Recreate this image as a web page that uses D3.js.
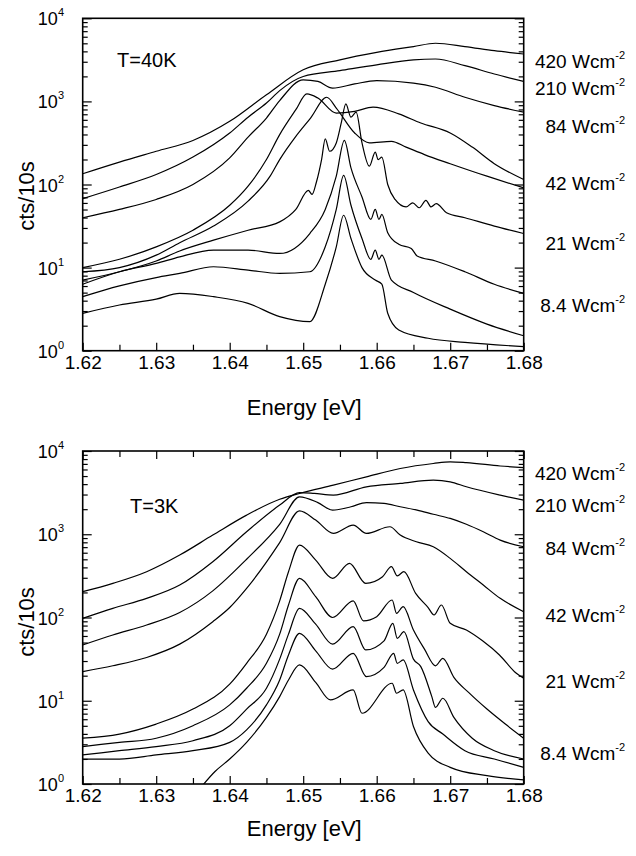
<!DOCTYPE html>
<html>
<head>
<meta charset="utf-8">
<script src="https://cdn.jsdelivr.net/npm/d3@7"></script>
<style>
  body { margin: 0; background: #fff; }
  text { font-family: "Liberation Sans", Arial, Helvetica, sans-serif; fill: #000; }
</style>
</head>
<body>
<svg id="chart" width="636" height="856"></svg>
<script>
// axis ticks / labels
var energyTicks = [1.62, 1.63, 1.64, 1.65, 1.66, 1.67, 1.68];
var decades = [1, 10, 100, 1000, 10000];
var powerLabels = ["420", "210", "84", "42", "21", "8.4"];

// ---- T = 40 K spectra, each point = [energy (eV), log10(cts/10s)] ----
var s40_420 = [[1.620,2.13],[1.625,2.27],[1.630,2.40],[1.635,2.53],[1.640,2.76],[1.645,3.08],[1.650,3.38],[1.655,3.50],[1.660,3.59],[1.665,3.66],[1.668,3.70],[1.672,3.66],[1.676,3.61],[1.680,3.57]];
var s40_210 = [[1.620,1.83],[1.625,1.97],[1.630,2.12],[1.635,2.33],[1.640,2.62],[1.6425,2.81],[1.645,2.98],[1.6468,3.13],[1.650,3.30],[1.655,3.37],[1.660,3.44],[1.665,3.50],[1.668,3.51],[1.672,3.43],[1.676,3.33],[1.680,3.24]];
var s40_84 = [[1.620,1.60],[1.625,1.70],[1.630,1.82],[1.635,2.00],[1.640,2.32],[1.6425,2.57],[1.645,2.80],[1.6468,3.01],[1.650,3.26],[1.652,3.24],[1.654,3.16],[1.657,3.21],[1.660,3.25],[1.665,3.22],[1.668,3.17],[1.672,3.05],[1.676,2.95],[1.680,2.87]];
var s40_42 = [[1.620,1.00],[1.625,1.10],[1.630,1.25],[1.635,1.45],[1.640,1.75],[1.6425,1.98],[1.645,2.30],[1.6468,2.60],[1.649,2.90],[1.6505,3.09],[1.652,3.04],[1.6545,2.86],[1.657,2.88],[1.6595,2.93],[1.663,2.85],[1.666,2.74],[1.670,2.62],[1.673,2.45],[1.676,2.25],[1.680,2.06]];
var s40_42b = [[1.620,0.95],[1.625,1.00],[1.630,1.15],[1.6332,1.30],[1.6378,1.50],[1.6425,1.80],[1.6455,2.10],[1.6468,2.30],[1.649,2.58],[1.651,2.80],[1.6532,3.05],[1.6545,2.92],[1.657,2.62],[1.659,2.50],[1.662,2.52],[1.664,2.45],[1.6665,2.36],[1.670,2.25],[1.675,2.10],[1.680,1.96]];
var s40_21 = [[1.620,0.85],[1.625,0.95],[1.630,1.08],[1.6332,1.20],[1.6378,1.33],[1.6425,1.45],[1.6468,1.55],[1.649,1.70],[1.6507,1.93],[1.6512,1.88],[1.6518,2.03],[1.6525,2.30],[1.6530,2.55],[1.6536,2.40],[1.6545,2.50],[1.6552,2.75],[1.6558,2.97],[1.6565,2.81],[1.6572,2.87],[1.6580,2.50],[1.6590,2.22],[1.6598,2.39],[1.6602,2.30],[1.6607,2.33],[1.6615,2.00],[1.6625,1.82],[1.664,1.73],[1.6649,1.78],[1.6658,1.72],[1.6667,1.81],[1.6674,1.73],[1.6681,1.77],[1.6695,1.66],[1.672,1.60],[1.676,1.50],[1.680,1.41]];
var s40_8 = [[1.620,0.80],[1.625,0.95],[1.630,1.05],[1.6332,1.13],[1.6378,1.21],[1.6425,1.21],[1.6468,1.17],[1.6509,1.41],[1.653,1.70],[1.6545,2.10],[1.6556,2.53],[1.6565,2.20],[1.658,1.85],[1.6592,1.58],[1.6598,1.70],[1.6603,1.58],[1.6607,1.64],[1.6615,1.42],[1.663,1.28],[1.6647,1.23],[1.6655,1.14],[1.668,1.08],[1.672,0.95],[1.676,0.80],[1.680,0.69]];
var s40_4 = [[1.620,0.65],[1.625,0.78],[1.630,0.88],[1.6332,0.93],[1.6378,1.01],[1.6425,0.97],[1.6468,0.93],[1.6509,0.95],[1.653,1.25],[1.6545,1.70],[1.6555,2.11],[1.6565,1.75],[1.658,1.35],[1.6592,1.10],[1.6598,1.21],[1.6603,1.10],[1.6607,1.15],[1.662,0.85],[1.665,0.70],[1.670,0.50],[1.675,0.32],[1.680,0.18]];
var s40_2 = [[1.620,0.45],[1.625,0.55],[1.630,0.62],[1.6332,0.69],[1.6378,0.65],[1.6425,0.57],[1.6468,0.41],[1.6509,0.35],[1.653,0.80],[1.6545,1.25],[1.6555,1.63],[1.6565,1.35],[1.658,1.00],[1.6598,0.85],[1.6607,0.80],[1.6615,0.45],[1.663,0.25],[1.667,0.15],[1.672,0.10],[1.680,0.05]];

// ---- T = 3 K spectra ----
var s3_420 = [[1.620,2.31],[1.6241,2.41],[1.6287,2.55],[1.6332,2.75],[1.6377,2.99],[1.6423,3.23],[1.6468,3.42],[1.6495,3.49],[1.6541,3.59],[1.6586,3.69],[1.6632,3.79],[1.6677,3.85],[1.670,3.87],[1.6722,3.86],[1.6768,3.82],[1.680,3.80]];
var s3_210 = [[1.620,1.99],[1.6241,2.11],[1.6287,2.23],[1.6332,2.39],[1.6377,2.67],[1.6423,3.03],[1.6468,3.35],[1.6495,3.50],[1.6515,3.49],[1.6541,3.47],[1.6586,3.57],[1.6632,3.61],[1.6677,3.65],[1.670,3.63],[1.6722,3.57],[1.6768,3.47],[1.680,3.41]];
var s3_84 = [[1.620,1.67],[1.6241,1.79],[1.6287,1.91],[1.6332,2.06],[1.6377,2.32],[1.6423,2.70],[1.6468,3.12],[1.6495,3.45],[1.652,3.38],[1.654,3.29],[1.6565,3.33],[1.6586,3.38],[1.661,3.37],[1.6632,3.33],[1.6655,3.29],[1.6677,3.24],[1.670,3.19],[1.6722,3.12],[1.6745,3.03],[1.6768,2.93],[1.680,2.85]];
var s3_42 = [[1.620,1.35],[1.6241,1.42],[1.6287,1.52],[1.6332,1.68],[1.6377,1.95],[1.640,2.12],[1.6423,2.35],[1.6468,2.90],[1.6495,3.28],[1.6517,3.17],[1.6541,3.01],[1.6568,3.11],[1.6586,3.01],[1.6618,3.09],[1.6632,2.99],[1.6654,2.91],[1.6677,2.85],[1.670,2.71],[1.6722,2.55],[1.6745,2.39],[1.6768,2.23],[1.680,2.07]];
var s3_21 = [[1.620,0.55],[1.625,0.60],[1.630,0.72],[1.635,0.90],[1.640,1.20],[1.6423,1.45],[1.645,1.80],[1.6468,2.20],[1.648,2.55],[1.6495,2.87],[1.6517,2.69],[1.654,2.47],[1.6563,2.65],[1.6585,2.41],[1.6608,2.49],[1.6620,2.61],[1.6628,2.50],[1.6637,2.55],[1.6653,2.29],[1.667,2.12],[1.6678,2.03],[1.6688,2.15],[1.670,1.93],[1.6722,1.85],[1.6744,1.72],[1.6767,1.55],[1.679,1.33],[1.680,1.27]];
var s3_12 = [[1.620,0.45],[1.625,0.50],[1.630,0.55],[1.635,0.70],[1.640,0.95],[1.6423,1.15],[1.645,1.45],[1.6468,1.80],[1.648,2.15],[1.6495,2.47],[1.6517,2.25],[1.6540,2.00],[1.6568,2.20],[1.6582,1.96],[1.660,2.01],[1.6621,2.21],[1.6627,2.05],[1.6636,2.13],[1.665,1.85],[1.6665,1.62],[1.668,1.42],[1.669,1.51],[1.6705,1.28],[1.6725,1.10],[1.675,0.90],[1.6775,0.72],[1.680,0.55]];
var s3_8 = [[1.620,0.35],[1.625,0.40],[1.630,0.45],[1.635,0.52],[1.640,0.70],[1.6423,0.90],[1.645,1.15],[1.6468,1.50],[1.648,1.80],[1.6495,2.11],[1.6517,1.92],[1.654,1.68],[1.6568,1.89],[1.6585,1.61],[1.661,1.72],[1.6622,1.93],[1.6628,1.75],[1.6637,1.83],[1.665,1.50],[1.666,1.41],[1.6675,1.05],[1.668,0.92],[1.669,1.03],[1.6705,0.80],[1.673,0.55],[1.676,0.40],[1.680,0.30]];
var s3_4 = [[1.620,0.30],[1.625,0.30],[1.630,0.35],[1.635,0.40],[1.640,0.50],[1.6423,0.65],[1.645,0.95],[1.6468,1.25],[1.648,1.55],[1.6495,1.81],[1.6517,1.60],[1.654,1.38],[1.6568,1.57],[1.6586,1.29],[1.661,1.40],[1.6623,1.57],[1.6628,1.45],[1.6636,1.49],[1.665,1.13],[1.667,0.75],[1.669,0.60],[1.672,0.40],[1.676,0.30],[1.680,0.20]];
var s3_2 = [[1.636,-0.05],[1.638,0.15],[1.640,0.30],[1.6423,0.50],[1.645,0.80],[1.6468,1.05],[1.648,1.25],[1.6495,1.43],[1.6517,1.22],[1.6537,1.01],[1.6568,1.13],[1.658,0.85],[1.6621,1.21],[1.6627,1.09],[1.6636,1.13],[1.665,0.69],[1.667,0.37],[1.670,0.20],[1.675,0.10],[1.680,0.05]];

var svg = d3.select("#chart");

var plotLeft = 82.7, plotRight = 523.7;

var panels = [
  { id: "t40", top: 18.3, bottom: 350.7, title: "T=40K", titleX: 117, titleY: 67,
    series: [s40_420, s40_210, s40_84, s40_42, s40_42b, s40_21, s40_8, s40_4, s40_2],
    labelY: [68, 95, 133, 190, 250, 312],
    xTitleY: 415, yTitleY: 196, topTicks: false },
  { id: "t3", top: 451, bottom: 784, title: "T=3K", titleX: 130, titleY: 513,
    series: [s3_420, s3_210, s3_84, s3_42, s3_21, s3_12, s3_8, s3_4, s3_2],
    labelY: [480, 512, 555, 622, 688, 760],
    xTitleY: 836, yTitleY: 622, topTicks: true }
];

panels.forEach(function(p) {
  var x = d3.scaleLinear().domain([1.62, 1.68]).range([plotLeft, plotRight]);
  var y = d3.scaleLog().domain([1, 1e4]).range([p.bottom, p.top]);
  var g = svg.append("g");

  // clip spectra to the frame
  svg.append("clipPath").attr("id", "clip-" + p.id)
    .append("rect")
      .attr("x", plotLeft).attr("y", p.top)
      .attr("width", plotRight - plotLeft).attr("height", p.bottom - p.top);

  var line = d3.line()
    .x(function(d) { return x(d[0]); })
    .y(function(d) { return y(Math.pow(10, d[1])); })
    .curve(d3.curveMonotoneX);

  g.append("g").attr("clip-path", "url(#clip-" + p.id + ")")
    .selectAll("path")
    .data(p.series)
    .join("path")
      .attr("d", line)
      .attr("fill", "none")
      .attr("stroke", "#000")
      .attr("stroke-width", 1.2);

  // minor energy ticks halfway between the labelled ones
  var minorE = energyTicks.slice(0, -1).map(function(v) { return v + 0.005; });

  // bottom axis, ticks pointing inward
  var bx = g.append("g").attr("transform", "translate(0," + p.bottom + ")");
  bx.call(d3.axisBottom(x).tickValues(energyTicks).tickSize(-8).tickPadding(4.5).tickFormat(d3.format(".2f")));
  bx.append("g").call(d3.axisBottom(x).tickValues(minorE).tickSize(-6).tickFormat(""));
  bx.selectAll("text").attr("font-size", 19).style("font-family", null);

  if (p.topTicks) {
    var tx = g.append("g").attr("transform", "translate(0," + p.top + ")");
    tx.call(d3.axisTop(x).tickValues(energyTicks).tickSize(-8).tickFormat(""));
    tx.append("g").call(d3.axisTop(x).tickValues(minorE).tickSize(-6).tickFormat(""));
  }

  // log ticks on left and right
  var minorY = [];
  decades.slice(0, -1).forEach(function(d) {
    for (var k = 2; k < 10; k++) minorY.push(d * k);
  });
  var ly = g.append("g").attr("transform", "translate(" + plotLeft + ",0)");
  ly.call(d3.axisLeft(y).tickValues(decades).tickSize(-9).tickFormat(""));
  ly.append("g").call(d3.axisLeft(y).tickValues(minorY).tickSize(-5).tickFormat(""));
  var ry = g.append("g").attr("transform", "translate(" + plotRight + ",0)");
  ry.call(d3.axisRight(y).tickValues(decades).tickSize(-9).tickFormat(""));
  ry.append("g").call(d3.axisRight(y).tickValues(minorY).tickSize(-5).tickFormat(""));

  g.selectAll(".domain").remove();
  g.selectAll(".tick line").attr("stroke", "#000").attr("stroke-width", 1.2);

  // decade labels 10^n
  decades.forEach(function(d, i) {
    var t = g.append("text")
      .attr("x", 64)
      .attr("y", y(d) + 7)
      .attr("text-anchor", "end")
      .attr("font-size", 18);
    t.append("tspan").text("10");
    t.append("tspan").attr("font-size", 11).attr("dy", -9).text(String(i));
  });

  // frame
  g.append("rect")
    .attr("x", plotLeft).attr("y", p.top)
    .attr("width", plotRight - plotLeft).attr("height", p.bottom - p.top)
    .attr("fill", "none").attr("stroke", "#000").attr("stroke-width", 1.6);

  // temperature
  g.append("text").attr("x", p.titleX).attr("y", p.titleY)
    .attr("font-size", 20).text(p.title);

  // power density labels at the right
  powerLabels.forEach(function(lbl, i) {
    var t = g.append("text")
      .attr("x", 625)
      .attr("y", p.labelY[i])
      .attr("text-anchor", "end")
      .attr("font-size", 19);
    t.append("tspan").text(lbl + " Wcm");
    t.append("tspan").attr("font-size", 11).attr("dy", -9).text("-2");
  });

  // axis titles
  g.append("text")
    .attr("x", (plotLeft + plotRight) / 2 + 1)
    .attr("y", p.xTitleY)
    .attr("text-anchor", "middle")
    .attr("font-size", 22)
    .text("Energy [eV]");

  g.append("text")
    .attr("transform", "translate(34," + p.yTitleY + ") rotate(-90)")
    .attr("text-anchor", "middle")
    .attr("font-size", 22)
    .text("cts/10s");
});
</script>
</body>
</html>
